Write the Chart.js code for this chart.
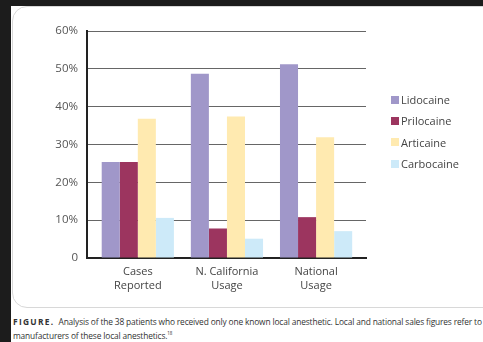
<!DOCTYPE html>
<html>
<head>
<meta charset="utf-8">
<script src="https://cdn.jsdelivr.net/npm/chart.js@4"></script>
<style>
  html, body { margin: 0; padding: 0; }
  body { width: 483px; height: 342px; background: #1c1c1c; overflow: hidden; position: relative; font-family: "Open Sans", "Noto Sans", sans-serif; }
  #sheet { position: absolute; left: 11px; top: 6px; width: 480px; height: 340px; background: #fff; }
  #panel { position: absolute; left: 1px; top: 0; width: 490px; height: 302px; border: 1px solid #d8d8d8; border-radius: 15px; box-sizing: border-box; }
  #chartWrap { position: absolute; left: 0; top: 0; width: 472px; height: 302px; }
  #legend { position: absolute; left: 380px; top: 83px; font-size: 11px; color: #444; }
  #legend div { height: 21.3px; display: flex; align-items: center; }
  #legend span.box { display: inline-block; width: 8px; height: 8px; margin-right: 2px; }
  #caption { position: absolute; left: 2px; top: 310px; width: 480px; white-space: nowrap; font-size: 8.4px; line-height: 11.5px; color: #333; letter-spacing: -0.15px; }
  #caption b { letter-spacing: 1.3px; font-weight: 700; margin-right: 4px; }
</style>
</head>
<body>
<div id="sheet">
  <div id="panel"></div>
  <div id="chartWrap"><canvas id="chart" width="472" height="302"></canvas></div>
  <div id="legend"></div>
  <div id="caption"><b>FIGURE.</b>Analysis of the 38 patients who received only one known local anesthetic. Local and national sales figures refer to all<br>manufacturers of these local anesthetics.<sup style="font-size:4.5px">18</sup></div>
</div>
<script>
const categories = [['Cases', 'Reported'], ['N. California', 'Usage'], ['National', 'Usage']];
const seriesNames = ['Lidocaine', 'Prilocaine', 'Articaine', 'Carbocaine'];
const lidocaine = [25.4, 48.7, 51.2];
const prilocaine = [25.4, 7.8, 10.8];
const articaine = [36.8, 37.4, 31.9];
const carbocaine = [10.6, 5.1, 7.1];
const seriesColors = ['#a097c9', '#9c355f', '#ffeab0', '#cdeaf9'];
const yTicks = [0, 10, 20, 30, 40, 50, 60];

const seriesValues = [lidocaine, prilocaine, articaine, carbocaine];

const chart = new Chart(document.getElementById('chart'), {
    type: 'bar',
    data: {
        labels: categories,
        datasets: seriesNames.map((name, i) => ({
            label: name,
            data: seriesValues[i],
            backgroundColor: seriesColors[i],
            borderWidth: 0,
            categoryPercentage: 0.81,
            barPercentage: 1.0
        }))
    },
    options: {
        responsive: false,
        animation: false,
        layout: { padding: { top: 25, right: 117, bottom: 0, left: 0 } },
        plugins: {
            legend: { display: false },
            tooltip: { enabled: false }
        },
        scales: {
            x: {
                grid: { display: false },
                border: { display: true, color: '#222', width: 2 },
                ticks: { color: '#444', font: { family: 'Open Sans', size: 11, lineHeight: 1.25 }, padding: -1, maxRotation: 0 },
                // groups in the original sit a bit tighter than the axis length
                afterBuildTicks: (scale) => {
                    scale._startValue = -0.57;
                    scale._valueRange = 3.13;
                },
                afterFit: (scale) => { scale.height = 50; }
            },
            y: {
                min: 0,
                max: 60,
                afterBuildTicks: (scale) => { scale.ticks = yTicks.map(v => ({ value: v })); },
                grid: { color: '#666', lineWidth: 1, drawTicks: false },
                border: { display: true, color: '#222', width: 2 },
                ticks: {
                    color: '#555',
                    font: { family: 'Open Sans', size: 11.5 },
                    padding: 9,
                    callback: (v) => v === 0 ? '0' : v + '%'
                },
                afterFit: (scale) => { scale.width = 76; }
            }
        }
    }
});

// html legend from the datasets
const legendEl = document.getElementById('legend');
chart.data.datasets.forEach(ds => {
    const row = document.createElement('div');
    row.innerHTML = '<span class="box" style="background:' + ds.backgroundColor + '"></span>' + ds.label;
    legendEl.appendChild(row);
});
</script>
</body>
</html>
